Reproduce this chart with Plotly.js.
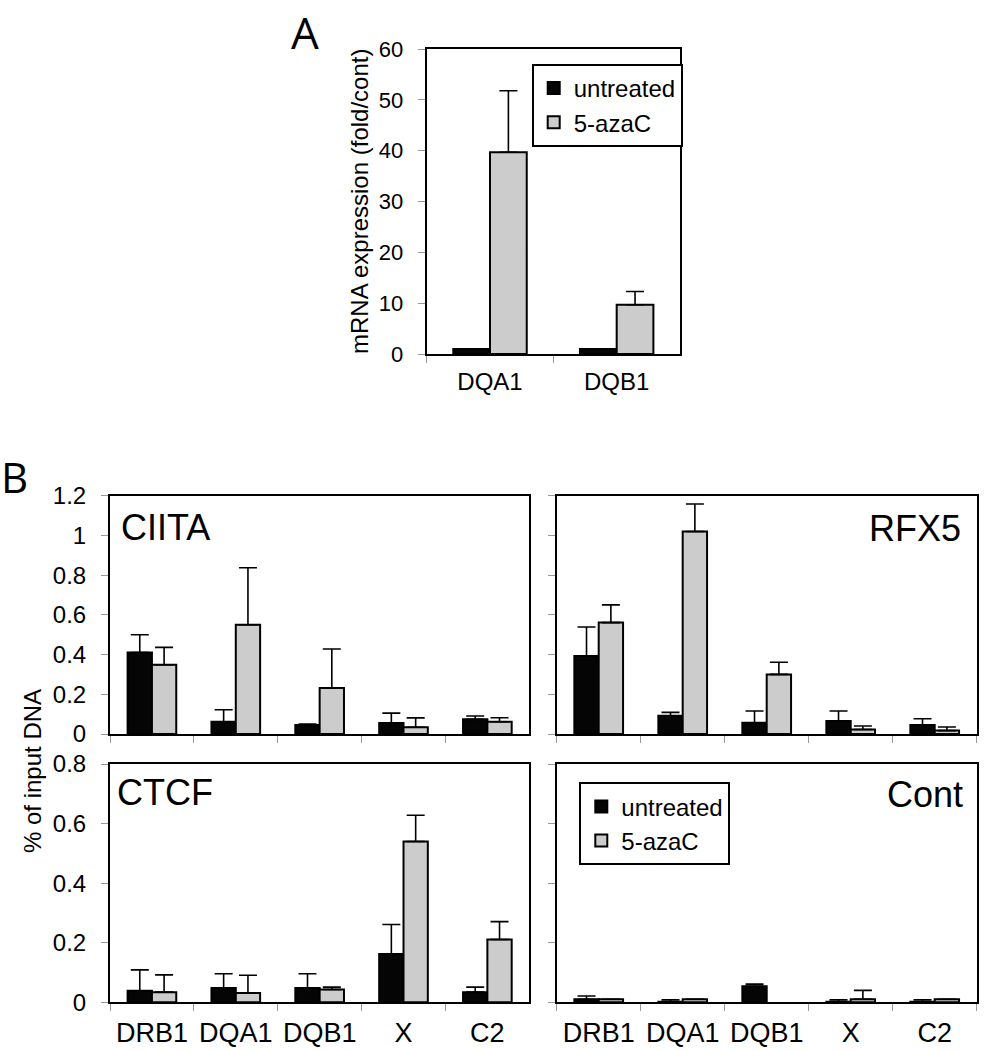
<!DOCTYPE html>
<html>
<head>
<meta charset="utf-8">
<script src="https://cdn.plot.ly/plotly-3.0.1.min.js"></script>
<style>html,body{margin:0;padding:0;background:#fff;}#chart{width:984px;height:1050px;}</style>
</head>
<body>
<div id="chart"></div>
<script>
// ---- Panel A data ----
const categoriesA = ['DQA1', 'DQB1'];
const untreatedA = [1.0, 1.0];
const untreatedAErr = [0, 0];
const azacA = [39.7, 9.7];
const azacAErr = [12.1, 2.6];

// ---- Panel B data ----
const categoriesB = ['DRB1', 'DQA1', 'DQB1', 'X', 'C2'];
const ciitaUntreated = [0.41, 0.062, 0.045, 0.055, 0.074];
const ciitaUntreatedErr = [0.09, 0.06, 0.005, 0.05, 0.017];
const ciitaAzac = [0.349, 0.55, 0.232, 0.034, 0.062];
const ciitaAzacErr = [0.087, 0.287, 0.196, 0.047, 0.02];

const rfx5Untreated = [0.393, 0.092, 0.057, 0.065, 0.045];
const rfx5UntreatedErr = [0.146, 0.017, 0.059, 0.051, 0.032];
const rfx5Azac = [0.561, 1.02, 0.30, 0.023, 0.017];
const rfx5AzacErr = [0.089, 0.138, 0.061, 0.017, 0.018];

const ctcfUntreated = [0.039, 0.048, 0.048, 0.162, 0.034];
const ctcfUntreatedErr = [0.07, 0.048, 0.048, 0.099, 0.017];
const ctcfAzac = [0.034, 0.031, 0.043, 0.54, 0.211];
const ctcfAzacErr = [0.058, 0.06, 0.008, 0.088, 0.06];

const contUntreated = [0.010, 0.002, 0.054, 0.002, 0.002];
const contUntreatedErr = [0.011, 0.006, 0.007, 0.006, 0.006];
const contAzac = [0.010, 0.010, null, 0.010, 0.010];
const contAzacErr = [0, 0, 0, 0.03, 0];

const seriesNames = ['untreated', '5-azaC'];
const panelNames = ['CIITA', 'RFX5', 'CTCF', 'Cont'];

const FONT = 'Arial, "Liberation Sans", sans-serif';
const BLACK = '#050505';
const GREY = '#cccccc';

function zeros(n) { return new Array(n).fill(0); }

function barTrace(x, y, err, color, name, xa, ya, showlegend, legend) {
  return {
    type: 'bar', x: x, y: y, name: name,
    xaxis: xa, yaxis: ya,
    showlegend: showlegend, legend: legend,
    marker: { color: color, line: { color: '#000', width: 2 } },
    error_y: { type: 'data', symmetric: false, array: err, arrayminus: zeros(err.length),
               color: '#000', thickness: 1.6, width: 9 },
    hoverinfo: 'x+y'
  };
}

const traces = [
  barTrace(categoriesA, untreatedA, untreatedAErr, BLACK, seriesNames[0], 'x', 'y', true, 'legend'),
  barTrace(categoriesA, azacA, azacAErr, GREY, seriesNames[1], 'x', 'y', true, 'legend'),
  barTrace(categoriesB, ciitaUntreated, ciitaUntreatedErr, BLACK, seriesNames[0], 'x2', 'y2', false, 'legend2'),
  barTrace(categoriesB, ciitaAzac, ciitaAzacErr, GREY, seriesNames[1], 'x2', 'y2', false, 'legend2'),
  barTrace(categoriesB, rfx5Untreated, rfx5UntreatedErr, BLACK, seriesNames[0], 'x3', 'y3', false, 'legend2'),
  barTrace(categoriesB, rfx5Azac, rfx5AzacErr, GREY, seriesNames[1], 'x3', 'y3', false, 'legend2'),
  barTrace(categoriesB, ctcfUntreated, ctcfUntreatedErr, BLACK, seriesNames[0], 'x4', 'y4', false, 'legend2'),
  barTrace(categoriesB, ctcfAzac, ctcfAzacErr, GREY, seriesNames[1], 'x4', 'y4', false, 'legend2'),
  barTrace(categoriesB, contUntreated, contUntreatedErr, BLACK, seriesNames[0], 'x5', 'y5', true, 'legend2'),
  barTrace(categoriesB, contAzac, contAzacErr, GREY, seriesNames[1], 'x5', 'y5', true, 'legend2')
];

const W = 984, H = 1050;
function px(x) { return x / W; }
function py(y) { return 1 - y / H; }

function xAxis(domain, anchor, showLabels, fontSize) {
  return {
    domain: domain, anchor: anchor, type: 'category',
    showline: true, mirror: true, linecolor: '#000', linewidth: 2,
    showgrid: false, zeroline: false,
    ticks: 'outside', tickson: 'boundaries', ticklen: 7, tickcolor: '#999', tickwidth: 1,
    showticklabels: showLabels, ticklabelstandoff: 5,
    tickfont: { family: FONT, size: fontSize, color: '#000' },
    fixedrange: true
  };
}
function yAxis(domain, anchor, range, dtick, showLabels, fontSize) {
  return {
    domain: domain, anchor: anchor, range: range, dtick: dtick, tick0: 0,
    showline: true, mirror: true, linecolor: '#000', linewidth: 2,
    showgrid: false, zeroline: false,
    ticks: 'outside', ticklen: 7, tickcolor: '#999', tickwidth: 1,
    showticklabels: showLabels, ticklabelstandoff: 10,
    tickfont: { family: FONT, size: fontSize, color: '#000' },
    fixedrange: true
  };
}

const xA = [px(426.7), px(680)], yA = [py(354), py(49)];
const xL = [px(110), px(529.3)], xR = [px(556.7), px(976.7)];
const yTop = [py(734), py(495.7)], yBot = [py(1002.3), py(764)];

const layout = {
  width: W, height: H,
  margin: { l: 0, r: 0, t: 0, b: 0 },
  paper_bgcolor: '#fff', plot_bgcolor: '#fff',
  barmode: 'group', bargap: 0.42, bargroupgap: 0,
  showlegend: true,
  font: { family: FONT, color: '#000' },
  xaxis: xAxis(xA, 'y', true, 24),
  yaxis: yAxis(yA, 'x', [0, 60], 10, true, 22),
  xaxis2: xAxis(xL, 'y2', false, 27),
  yaxis2: yAxis(yTop, 'x2', [0, 1.2], 0.2, true, 24),
  xaxis3: xAxis(xR, 'y3', false, 27),
  yaxis3: yAxis(yTop, 'x3', [0, 1.2], 0.2, false, 24),
  xaxis4: xAxis(xL, 'y4', true, 27),
  yaxis4: yAxis(yBot, 'x4', [0, 0.8], 0.2, true, 24),
  xaxis5: xAxis(xR, 'y5', true, 27),
  yaxis5: yAxis(yBot, 'x5', [0, 0.8], 0.2, false, 24),
  legend: {
    x: px(531.7), y: py(64), xanchor: 'left', yanchor: 'top',
    bordercolor: '#000', borderwidth: 2, bgcolor: '#fff',
    font: { family: FONT, size: 24, color: '#000' },
    tracegroupgap: 0, traceorder: 'normal', itemwidth: 30
  },
  legend2: {
    x: px(579.3), y: py(782.3), xanchor: 'left', yanchor: 'top',
    bordercolor: '#000', borderwidth: 2, bgcolor: '#fff',
    font: { family: FONT, size: 24, color: '#000' },
    tracegroupgap: 0, traceorder: 'normal', itemwidth: 30
  },
  annotations: [
    { text: 'A', xref: 'paper', yref: 'paper', x: px(305), y: 1, xanchor: 'center', yanchor: 'top',
      showarrow: false, font: { family: '"Open Sans", sans-serif', size: 44, color: '#000' } },
    { text: 'B', xref: 'paper', yref: 'paper', x: px(14), y: py(446), xanchor: 'center', yanchor: 'top',
      showarrow: false, font: { family: '"Open Sans", sans-serif', size: 42, color: '#000' } },
    { text: 'mRNA expression (fold/cont)', xref: 'paper', yref: 'paper', x: px(360), y: py(202),
      xanchor: 'center', yanchor: 'middle', textangle: -90, showarrow: false,
      font: { family: FONT, size: 24, color: '#000' } },
    { text: '% of input DNA', xref: 'paper', yref: 'paper', x: px(32), y: py(771),
      xanchor: 'center', yanchor: 'middle', textangle: -90, showarrow: false,
      font: { family: FONT, size: 24, color: '#000' } },
    { text: panelNames[0], xref: 'paper', yref: 'paper', x: px(119), y: py(527), xanchor: 'left', yanchor: 'middle',
      showarrow: false, font: { family: FONT, size: 36, color: '#000' } },
    { text: panelNames[1], xref: 'paper', yref: 'paper', x: px(963), y: py(528), xanchor: 'right', yanchor: 'middle',
      showarrow: false, font: { family: FONT, size: 36, color: '#000' } },
    { text: panelNames[2], xref: 'paper', yref: 'paper', x: px(115), y: py(792), xanchor: 'left', yanchor: 'middle',
      showarrow: false, font: { family: FONT, size: 36, color: '#000' } },
    { text: panelNames[3], xref: 'paper', yref: 'paper', x: px(965), y: py(794), xanchor: 'right', yanchor: 'middle',
      showarrow: false, font: { family: FONT, size: 36, color: '#000' } }
  ]
};

Plotly.newPlot('chart', traces, layout, { displayModeBar: false, staticPlot: true });
</script>
</body>
</html>
